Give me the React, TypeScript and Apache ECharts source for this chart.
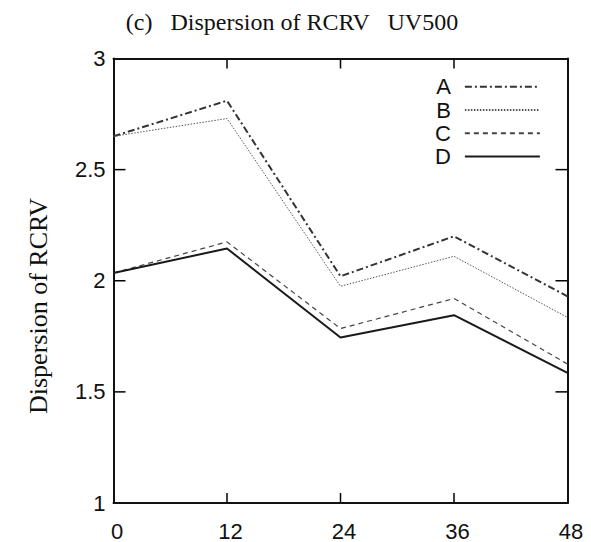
import React, { useEffect, useRef } from "react";
import * as echarts from "echarts";

const hours = [0, 12, 24, 36, 48];
const seriesA = [2.65, 2.81, 2.02, 2.2, 1.93];
const seriesB = [2.65, 2.73, 1.975, 2.11, 1.835];
const seriesC = [2.035, 2.175, 1.785, 1.92, 1.625];
const seriesD = [2.035, 2.145, 1.745, 1.845, 1.585];
const seriesNames = ["A", "B", "C", "D"];
const xTicks = [0, 12, 24, 36, 48];
const yTicks = [1, 1.5, 2, 2.5, 3];

const toPairs = (vals: number[]) => vals.map((v, i) => [hours[i], v]);

export default function App() {
  const ref = useRef<HTMLDivElement>(null);
  useEffect(() => {
    if (!ref.current) return;
    const chart = echarts.init(ref.current, null, { renderer: "svg" });
    const styles = [
      { color: "#333", width: 2, type: [7, 3, 2, 3] },
      { color: "#555", width: 1, type: [1.5, 1.5] },
      { color: "#444", width: 1.2, type: [5, 4] },
      { color: "#1a1a1a", width: 2, type: "solid" },
    ];
    const data = [seriesA, seriesB, seriesC, seriesD];
    const sans = "Liberation Sans, Arial, sans-serif";
    const serif = "Liberation Serif, Times New Roman, serif";
    const lineSt = { color: "#111", width: 2 };

    const xMin = xTicks[0];
    const xMax = xTicks[xTicks.length - 1];
    const yMin = yTicks[0];
    const yMax = yTicks[yTicks.length - 1];

    const xBase = {
      type: "value",
      min: xMin,
      max: xMax,
      interval: 12,
      splitLine: { show: false },
      axisTick: { show: false },
    };
    const yBase = {
      type: "value",
      min: yMin,
      max: yMax,
      interval: 0.5,
      splitLine: { show: false },
      axisTick: { show: false },
    };

    const texts = [
      {
        id: "title",
        type: "text",
        x: 292,
        y: 22,
        style: {
          text: "(c)   Dispersion of RCRV   UV500",
          font: `24px ${serif}`,
          fill: "#111",
          textAlign: "center",
          textVerticalAlign: "middle",
        },
      },
      {
        id: "ytitle",
        type: "text",
        x: 38,
        y: 306,
        rotation: Math.PI / 2,
        style: {
          text: "Dispersion of RCRV",
          font: `26px ${serif}`,
          fill: "#111",
          textAlign: "center",
          textVerticalAlign: "middle",
        },
      },
    ];

    chart.setOption({
      animation: false,
      backgroundColor: "#fff",
      grid: {
        left: 113.5,
        right: 23.5,
        top: 58.5,
        bottom: 38,
        show: false,
      },
      graphic: texts,
      legend: {
        orient: "vertical",
        left: 430,
        top: 70.7,
        align: "right",
        itemWidth: 75,
        itemHeight: 12,
        itemGap: 1.3,
        data: seriesNames,
        itemStyle: { opacity: 0 },
        textStyle: {
          fontFamily: sans,
          fontSize: 22,
          lineHeight: 22,
          color: "#111",
          padding: [0, 9, 0, 0],
        },
      },
      xAxis: [
        {
          ...xBase,
          position: "bottom",
          axisLine: { show: true, onZero: false, lineStyle: lineSt },
          axisLabel: {
            margin: 17,
            fontFamily: sans,
            fontSize: 22,
            color: "#111",
            padding: [0, 0, 0, 7],
          },
        },
        {
          ...xBase,
          position: "top",
          axisLine: { show: true, onZero: false, lineStyle: lineSt },
          axisLabel: { show: false },
        },
      ],
      yAxis: [
        {
          ...yBase,
          position: "left",
          axisLine: { show: true, onZero: false, lineStyle: lineSt },
          axisLabel: { margin: 8, fontFamily: sans, fontSize: 22, color: "#111" },
        },
        {
          ...yBase,
          position: "right",
          axisLine: { show: true, onZero: false, lineStyle: lineSt },
          axisLabel: { show: false },
        },
      ],
      series: seriesNames.map((name, i) => ({
        name,
        type: "line",
        data: toPairs(data[i]),
        symbol: "none",
        showSymbol: false,
        color: styles[i].color,
        lineStyle: styles[i],
        xAxisIndex: 0,
        yAxisIndex: 0,
      })),
    });

    // inward ticks on all four sides, positioned through the chart's own scales
    const finder = { xAxisIndex: 0, yAxisIndex: 0 };
    const toPx = (x: number, y: number) => {
      const p = chart.convertToPixel(finder as any, [x, y]) as any;
      return Array.isArray(p) && isFinite(p[0]) && isFinite(p[1]) ? p : null;
    };
    const tickStyle = { stroke: "#000", lineWidth: 1.5 };
    const ticks: any[] = [];
    const addTick = (p: number[] | null, dx: number, dy: number) => {
      if (!p) return;
      ticks.push({
        id: "tick" + ticks.length,
        type: "line",
        silent: true,
        shape: { x1: p[0], y1: p[1], x2: p[0] + dx, y2: p[1] + dy },
        style: tickStyle,
      });
    };
    xTicks.slice(1, -1).forEach((t) => {
      addTick(toPx(t, yMin), 0, -10);
      addTick(toPx(t, yMax), 0, 10);
    });
    yTicks.slice(1, -1).forEach((t) => {
      addTick(toPx(xMin, t), 12, 0);
      addTick(toPx(xMax, t), -12, 0);
    });
    if (ticks.length) {
      chart.setOption({ graphic: [...texts, ...ticks] });
    }

    return () => chart.dispose();
  }, []);
  return (
    <div
      ref={ref}
      style={{ position: "absolute", left: 0, top: 0, width: 591, height: 542 }}
    />
  );
}
